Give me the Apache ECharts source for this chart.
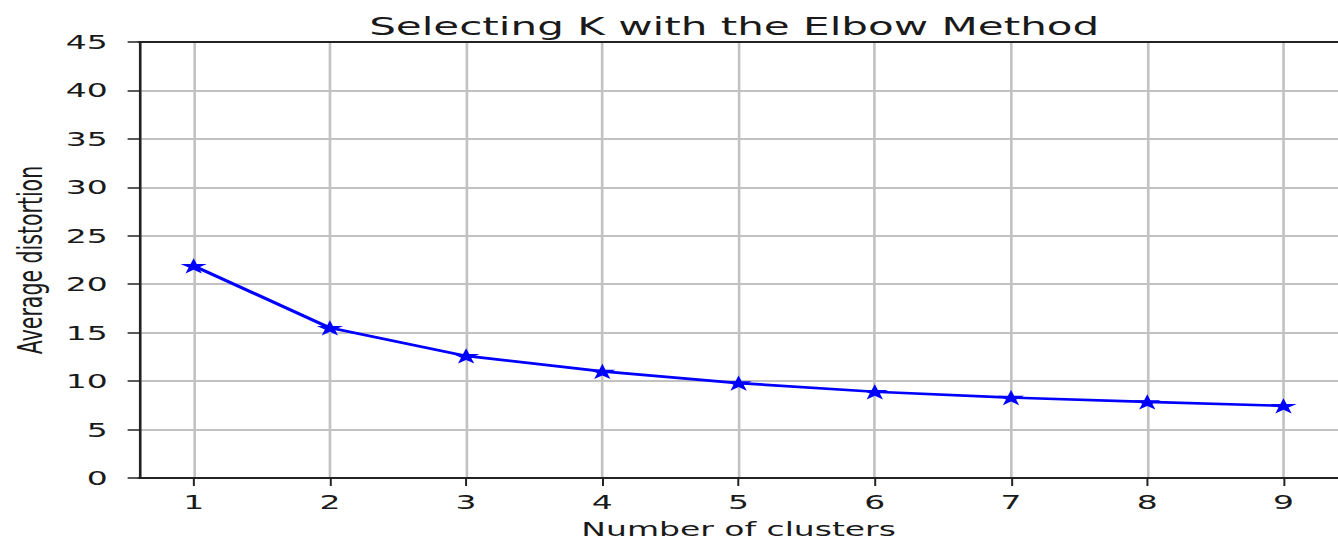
<!DOCTYPE html>
<html>
<head>
<meta charset="utf-8">
<script src="https://cdn.jsdelivr.net/npm/echarts@6/dist/echarts.min.js"></script>
<style>
  html, body { margin: 0; padding: 0; background: #fff; overflow: hidden; }
  #chart { width: 811px; height: 544px; transform: scaleX(1.6498); transform-origin: 0 0; }
</style>
</head>
<body>
<div id="chart"></div>
<script>
// Data
const clusters = [1, 2, 3, 4, 5, 6, 7, 8, 9];
const distortion = [21.9, 15.5, 12.6, 11.0, 9.8, 8.9, 8.3, 7.85, 7.45];
const xTicks = [1, 2, 3, 4, 5, 6, 7, 8, 9];
const titleText = 'Selecting K with the Elbow Method';
const xName = 'Number of clusters';
const yName = 'Average distortion';

const starPath = 'path://M50 0 L61.23 34.55 L97.55 34.55 L68.16 55.9 L79.39 90.45 L50 69.1 L20.61 90.45 L31.84 55.9 L2.45 34.55 L38.77 34.55 Z';
const font = 'DejaVu Sans';
const textColor = '#1a1a1a';
const spine = '#222';

const chart = echarts.init(document.getElementById('chart'), null, { renderer: 'svg' });
chart.setOption({
  animation: false,
  backgroundColor: '#fff',
  title: {
    text: titleText,
    left: 440,
    textAlign: 'center',
    top: 8,
    textStyle: { fontFamily: font, fontSize: 25.5, fontWeight: 'normal', color: textColor }
  },
  grid: { left: 84, right: 0, top: 42, bottom: 65 },
  xAxis: [{
    type: 'value',
    min: 0.6, max: 9.4,
    name: xName,
    nameLocation: 'middle',
    nameGap: 41,
    nameTextStyle: { fontFamily: font, fontSize: 20, color: textColor },
    axisLine: { show: true, onZero: false, lineStyle: { color: spine, width: 1.8 } },
    axisTick: { show: true, length: 8, customValues: xTicks, lineStyle: { color: spine, width: 1.2 } },
    axisLabel: { customValues: xTicks, margin: 14, fontFamily: font, fontSize: 20, color: textColor },
    splitLine: { show: true, lineStyle: { color: '#c2c2c2', width: 1.6 } }
  }, {
    type: 'value',
    position: 'top',
    min: 0.6, max: 9.4,
    axisLine: { show: true, onZero: false, lineStyle: { color: spine, width: 1.8 } },
    axisTick: { show: false },
    axisLabel: { show: false },
    splitLine: { show: false }
  }],
  yAxis: {
    type: 'value',
    min: 0, max: 45, interval: 5,
    name: yName,
    nameLocation: 'middle',
    nameGap: 55,
    nameTextStyle: { fontFamily: font, fontSize: 20.5, color: textColor },
    axisLine: { show: true, lineStyle: { color: spine, width: 1.6 } },
    axisTick: { show: true, length: 7, lineStyle: { color: spine, width: 1.5 } },
    axisLabel: { margin: 19, fontFamily: font, fontSize: 20, color: textColor },
    splitLine: { show: true, lineStyle: { color: '#c2c2c2', width: 1.8 } }
  },
  series: [{
    type: 'line',
    xAxisIndex: 0,
    data: clusters.map((c, i) => [c, distortion[i]]),
    symbol: starPath,
    symbolKeepAspect: true,
    symbolSize: 16,
    showAllSymbol: true,
    lineStyle: { color: '#0000ff', width: 2.7 },
    itemStyle: { color: '#0000ff' },
    z: 5
  }]
});
</script>
</body>
</html>
